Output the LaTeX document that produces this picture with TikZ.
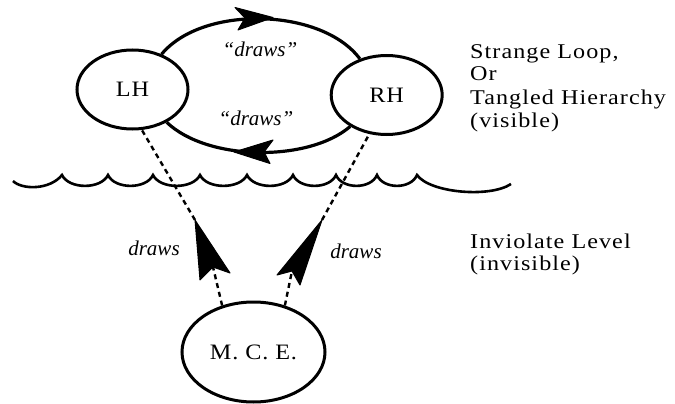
\documentclass[tikz,border=0pt]{standalone}
\usepackage{fontspec}
\setmainfont{Liberation Serif}
\newfontfamily\sidefont[LetterSpace=5,FakeStretch=1.15]{Liberation Serif}
\newfontfamily\nodefont[LetterSpace=4,FakeStretch=1.1]{Liberation Serif}
\usetikzlibrary{shapes.geometric}
\tikzset{
  hnode/.style={ellipse,draw,line width=3pt,fill=white,inner sep=0pt,
    minimum width=111pt,minimum height=79pt,font=\nodefont\fontsize{22}{24}\selectfont},
  loopline/.style={line width=3.2pt},
  dashline/.style={line width=2.4pt,dash pattern=on 5pt off 4pt},
  wave/.style={line width=2.6pt},
  tipfill/.style={fill=black,draw=black,line width=1pt,line join=round},
  sidetext/.style={anchor=base west,inner sep=0pt,font=\sidefont\fontsize{21}{23}\selectfont},
  drawslabel/.style={anchor=base,inner sep=0pt,font=\itshape\fontsize{21}{23}\selectfont},
}
\begin{document}
\begin{tikzpicture}[x=1pt,y=-1pt]
\fill[white] (0,0) rectangle (675,404);
\useasboundingbox (0,0) rectangle (675,404);
% nodes
\node[hnode] (lh) at (132.5,89.5) {LH};
\node[hnode] (rh) at (386.7,95) {RH};
\node[hnode,minimum width=143pt,minimum height=100pt] (mce) at (253.5,352) {M. C. E.};
% strange loop
\draw[loopline] (lh) .. controls (202.5,4.6) and (321.9,7.7) .. (rh);
\draw[loopline] (rh) .. controls (308.6,162.3) and (207.4,161.3) .. (lh);
\fill[tipfill] (273,17.5) -- (235,7.5) -- (245,18) -- (238,30) -- cycle;
\fill[tipfill] (234,152) -- (273,140) -- (264,152) -- (270,163.5) -- cycle;
% dashed connectors with arrowheads
\coordinate (tipL) at (195,220);
\coordinate (notchL) at (213,267);
\coordinate (tipR) at (322,220);
\coordinate (notchR) at (292,271);
\draw[dashline] (mce.124) -- (notchL);
\draw[dashline] (tipL) -- (lh.-77);
\draw[dashline] (mce.56) -- (notchR);
\draw[dashline] (tipR) -- (rh.-114);
\fill[tipfill] (tipL) -- (230,273) -- (notchL) -- (200,280) -- cycle;
\fill[tipfill] (tipR) -- (300,285) -- (notchR) -- (277,275) -- cycle;
% labels
\node[drawslabel] (d1) at (260,57) {“draws”};
\node[drawslabel] (d2) at (256,125) {“draws”};
\node[drawslabel] (d3) at (154,255) {draws};
\node[drawslabel] (d4) at (356,258) {draws};
% wave
\draw[wave] (13,181) .. controls (22,190) and (50,190) .. (62,175)
  .. controls (68.9,189.5) and (101.1,189.5) .. (108,175)
  .. controls (114.75,189.5) and (146.25,189.5) .. (153,175)
  .. controls (160.05,189.5) and (192.95,189.5) .. (200,175)
  .. controls (207.05,189.5) and (239.95,189.5) .. (247,175)
  .. controls (253.9,189.5) and (286.1,189.5) .. (293,175)
  .. controls (299.45,189.5) and (329.55,189.5) .. (336,175)
  .. controls (342.15,189.5) and (370.85,189.5) .. (377,175)
  .. controls (383,189.5) and (411,189.5) .. (417,175)
  .. controls (430,193) and (490,198) .. (511,184);
% side text
\node[sidetext] (s1) at (470,58.3) {Strange Loop,};
\node[sidetext] (s2) at (470,80.7) {Or};
\node[sidetext] (s3) at (470,105) {Tangled Hierarchy};
\node[sidetext] (s4) at (470,127.3) {(visible)};
\node[sidetext] (s5) at (470,248.3) {Inviolate Level};
\node[sidetext] (s6) at (470,270.7) {(invisible)};
\end{tikzpicture}
\end{document}
